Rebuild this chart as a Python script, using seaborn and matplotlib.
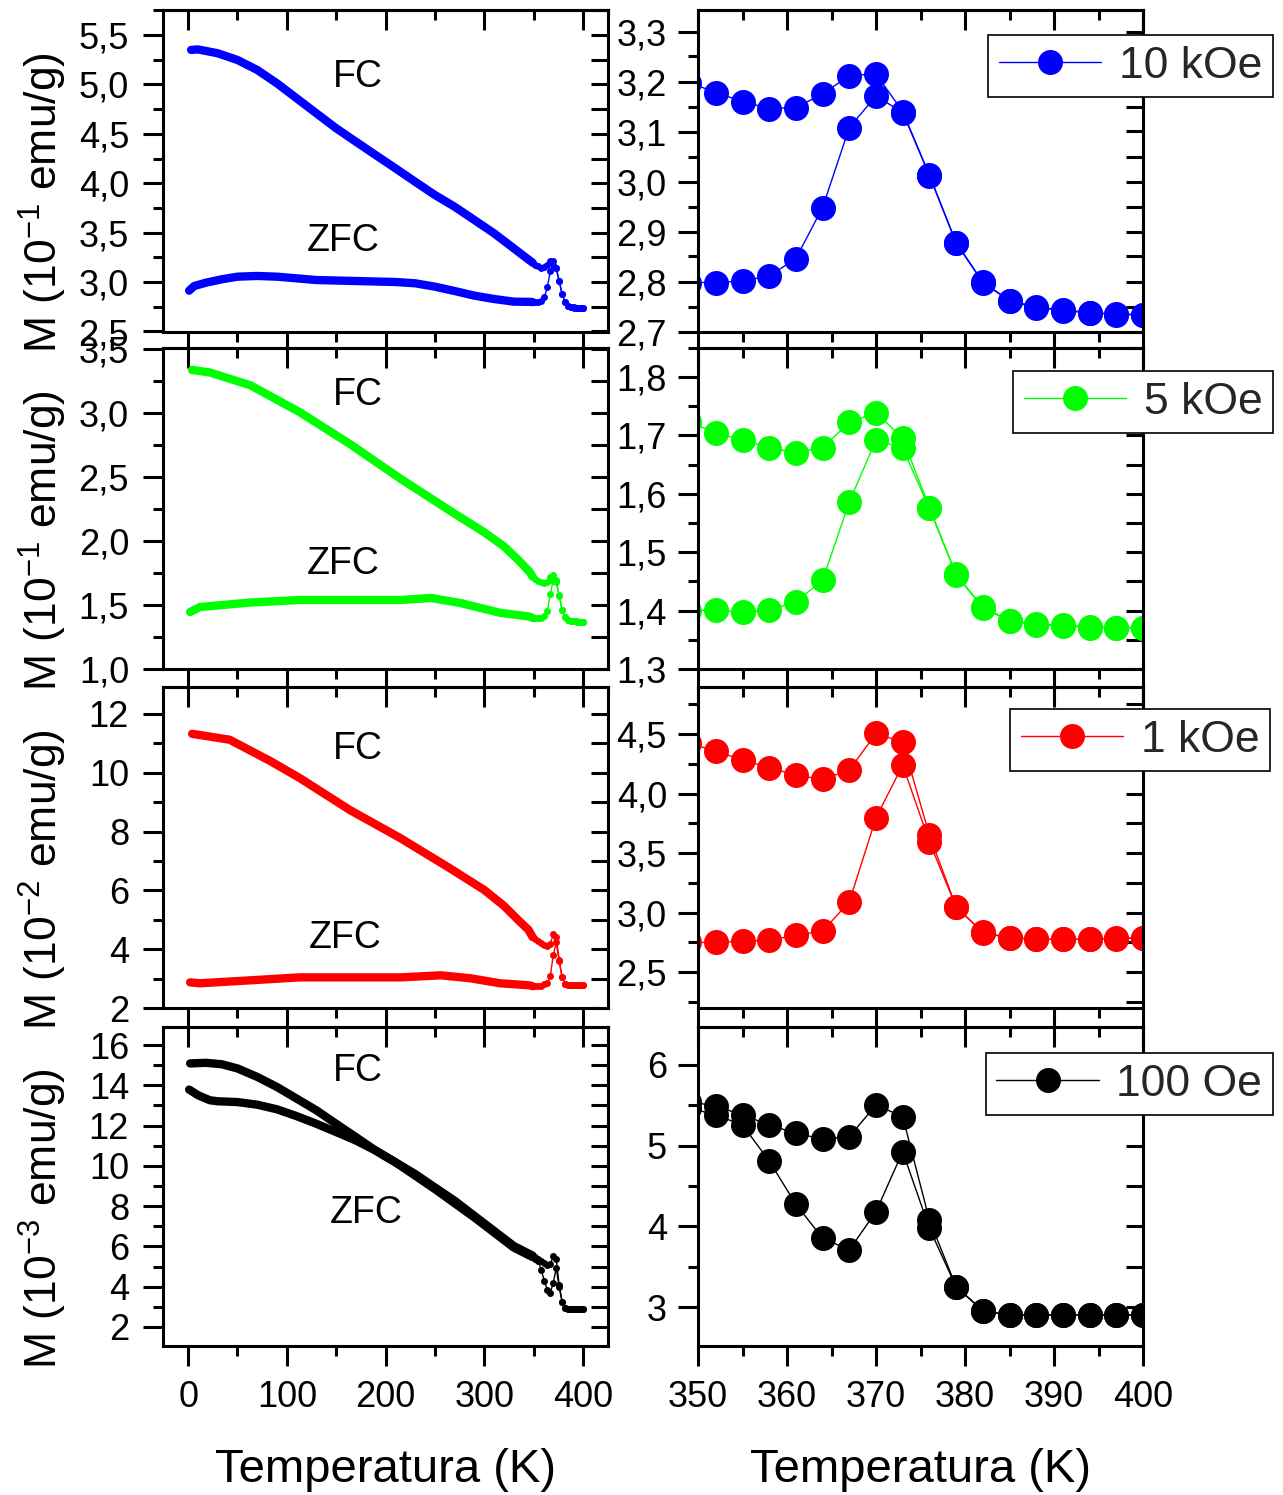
import numpy as np
import pandas as pd
import matplotlib
matplotlib.use("Agg")
import matplotlib.pyplot as plt
import seaborn as sns
from matplotlib.lines import Line2D
from matplotlib.ticker import MultipleLocator, FuncFormatter

sns.set_theme(style="white")
plt.rcParams["font.family"] = ["Liberation Sans", "DejaVu Sans"]
plt.rcParams["mathtext.fontset"] = "custom"
plt.rcParams["mathtext.rm"] = "Liberation Sans"
plt.rcParams["mathtext.it"] = "Liberation Sans:italic"
plt.rcParams["mathtext.default"] = "regular"

# ---------------------------------------------------------------------------
# Magnetization data (ZFC / FC), four applied fields
# ---------------------------------------------------------------------------
# 3 K steps across the transition
t_zoom = [349, 352, 355, 358, 361, 364, 367, 370, 373, 376, 379, 382, 385, 388, 391, 394, 397, 400]

# 10 kOe  (10^-1 emu/g)
zfc_10k = [2.798, 2.798, 2.801, 2.811, 2.846, 2.948, 3.108, 3.171, 3.138, 3.012, 2.877, 2.798,
           2.761, 2.748, 2.742, 2.737, 2.734, 2.733]
fc_10k = [3.198, 3.178, 3.160, 3.146, 3.148, 3.175, 3.212, 3.215, 3.140, 3.013, 2.878, 2.799,
          2.762, 2.749, 2.743, 2.738, 2.735, 2.734]
t_fc_10k = [3, 10, 30, 50, 70, 90, 110, 130, 150, 170, 190, 210, 230, 250, 270, 290, 310, 330, 346]
fc_10k_low = [5.350, 5.355, 5.316, 5.248, 5.147, 5.012, 4.860, 4.708, 4.557, 4.421, 4.286, 4.152,
              4.016, 3.882, 3.763, 3.629, 3.494, 3.342, 3.220]
t_zfc_10k = [1, 6, 18, 34, 50, 70, 90, 110, 130, 170, 210, 230, 250, 270, 290, 310, 330, 346]
zfc_10k_low = [2.913, 2.960, 2.994, 3.028, 3.055, 3.062, 3.055, 3.038, 3.021, 3.011, 3.001, 2.988,
               2.954, 2.910, 2.863, 2.829, 2.802, 2.800]

# 5 kOe  (10^-1 emu/g)
zfc_5k = [1.400, 1.401, 1.397, 1.401, 1.415, 1.452, 1.586, 1.692, 1.678, 1.575, 1.461, 1.405,
          1.382, 1.376, 1.374, 1.371, 1.370, 1.370]
fc_5k = [1.723, 1.704, 1.692, 1.679, 1.670, 1.679, 1.722, 1.739, 1.695, 1.576, 1.462, 1.406,
         1.383, 1.377, 1.375, 1.372, 1.371, 1.371]
t_fc_5k = [4, 22, 63, 113, 164, 215, 265, 300, 320, 335, 346]
fc_5k_low = [3.34, 3.32, 3.22, 3.01, 2.76, 2.49, 2.24, 2.07, 1.96, 1.85, 1.76]
t_zfc_5k = [2, 12, 63, 113, 164, 215, 246, 276, 316, 346]
zfc_5k_low = [1.446, 1.485, 1.52, 1.54, 1.54, 1.54, 1.556, 1.516, 1.44, 1.41]

# 1 kOe  (10^-2 emu/g)
zfc_1k = [2.750, 2.750, 2.761, 2.769, 2.811, 2.845, 3.091, 3.797, 4.239, 3.595, 3.049, 2.833,
          2.788, 2.777, 2.775, 2.777, 2.783, 2.788]
fc_1k = [4.422, 4.357, 4.282, 4.217, 4.155, 4.119, 4.197, 4.506, 4.430, 3.651, 3.050, 2.834,
         2.789, 2.778, 2.776, 2.778, 2.784, 2.789]
t_fc_1k = [4, 42, 83, 113, 164, 215, 265, 300, 320, 335, 345]
fc_1k_low = [11.32, 11.12, 10.40, 9.82, 8.73, 7.78, 6.76, 6.02, 5.48, 4.98, 4.66]
t_zfc_1k = [2, 12, 63, 113, 164, 215, 256, 286, 316, 346]
zfc_1k_low = [2.88, 2.85, 2.95, 3.05, 3.05, 3.05, 3.12, 3.02, 2.85, 2.78]

# 100 Oe  (10^-3 emu/g)
zfc_100 = [5.47, 5.380, 5.257, 4.810, 4.274, 3.853, 3.708, 4.182, 4.926, 3.976, 3.250, 2.955,
           2.900, 2.900, 2.900, 2.900, 2.900, 2.900]
fc_100 = [5.545, 5.492, 5.380, 5.257, 5.153, 5.083, 5.112, 5.504, 5.360, 4.079, 3.253, 2.956,
          2.902, 2.902, 2.902, 2.902, 2.902, 2.902]
t_fc_100 = [2, 18, 34, 50, 70, 90, 110, 130, 150, 170, 190, 210, 230, 250, 270, 290, 310, 330]
fc_100_low = [15.09, 15.12, 15.05, 14.84, 14.42, 13.92, 13.34, 12.76, 12.09, 11.43, 10.76, 10.18,
              9.60, 8.93, 8.27, 7.52, 6.77, 6.02]
t_zfc_100 = [1, 10, 22, 30, 50, 70, 90, 110, 130, 150, 170, 190, 210, 250, 290, 330]
zfc_100_low = [13.79, 13.51, 13.26, 13.21, 13.17, 13.04, 12.81, 12.47, 12.09, 11.68, 11.26,
               10.76, 10.18, 8.85, 7.44, 5.94]

fields = ["10 kOe", "5 kOe", "1 kOe", "100 Oe"]
colors = ["#0000FF", "#00FF00", "#FF0000", "#000000"]
exponents = ["-1", "-1", "-2", "-3"]

rows = [
    dict(zfc=zfc_10k, fc=fc_10k, tfl=t_fc_10k, fcl=fc_10k_low, tzl=t_zfc_10k, zfl=zfc_10k_low,
         ylim_l=(2.5, 5.754), maj_l=0.5, min_l=0.25, fmt_l="{:.1f}",
         ylim_r=(2.7, 3.343), maj_r=0.1, min_r=0.05, fmt_r="{:.1f}",
         fc_txt=(172, 5.08), zfc_txt=(157, 3.42)),
    dict(zfc=zfc_5k, fc=fc_5k, tfl=t_fc_5k, fcl=fc_5k_low, tzl=t_zfc_5k, zfl=zfc_5k_low,
         ylim_l=(1.0, 3.514), maj_l=0.5, min_l=0.25, fmt_l="{:.1f}",
         ylim_r=(1.3, 1.850), maj_r=0.1, min_r=0.05, fmt_r="{:.1f}",
         fc_txt=(172, 3.14), zfc_txt=(157, 1.82)),
    dict(zfc=zfc_1k, fc=fc_1k, tfl=t_fc_1k, fcl=fc_1k_low, tzl=t_zfc_1k, zfl=zfc_1k_low,
         ylim_l=(2.0, 12.91), maj_l=2, min_l=1, fmt_l="{:.0f}",
         ylim_r=(2.197, 4.895), maj_r=0.5, min_r=0.25, fmt_r="{:.1f}",
         fc_txt=(172, 10.81), zfc_txt=(159, 4.38)),
    dict(zfc=zfc_100, fc=fc_100, tfl=t_fc_100, fcl=fc_100_low, tzl=t_zfc_100, zfl=zfc_100_low,
         ylim_l=(1.05, 16.9), maj_l=2, min_l=1, fmt_l="{:.0f}",
         ylim_r=(2.517, 6.471), maj_r=1, min_r=0.5, fmt_r="{:.0f}",
         fc_txt=(172, 14.71), zfc_txt=(180, 7.66)),
]

legend_boxes = [(1273, 35), (1273, 371), (1270, 709), (1273, 1053)]

W, H = 1283, 1495
fig = plt.figure(figsize=(W / 100, H / 100), dpi=100)

row_px = [(10, 331.5), (347.7, 669), (687, 1008.3), (1027, 1346)]
left_x = (163, 608)
right_x = (698, 1143)

LW = 2.2
MAJ, MIN = 14.4, 7.5
TICK_FS = 26
YLABEL_FS = 32
XLABEL_FS = 34


def comma_fmt(fmt):
    return FuncFormatter(lambda v, p: fmt.format(v).replace(".", ",").replace("-", "\u2212"))


def style_axes(ax, xmaj, xmin, ymaj, ymin, yfmt, show_xlabels, ypad):
    for s in ax.spines.values():
        s.set_linewidth(LW)
        s.set_color("black")
    ax.xaxis.set_major_locator(MultipleLocator(xmaj))
    ax.xaxis.set_minor_locator(MultipleLocator(xmin))
    ax.yaxis.set_major_locator(MultipleLocator(ymaj))
    ax.yaxis.set_minor_locator(MultipleLocator(ymin))
    ax.yaxis.set_major_formatter(comma_fmt(yfmt))
    ax.tick_params(which="both", direction="out", width=LW, color="black",
                   top=False, right=False, bottom=True, left=True,
                   labelsize=TICK_FS, labelcolor="black")
    ax.tick_params(which="major", length=MAJ)
    ax.tick_params(which="minor", length=MIN)
    ax.tick_params(axis="y", which="major", pad=ypad)
    ax.tick_params(axis="x", which="major", pad=10)
    if not show_xlabels:
        ax.tick_params(axis="x", labelbottom=False)
    # mirrored axes with inward ticks
    top = ax.secondary_xaxis("top")
    top.xaxis.set_major_locator(MultipleLocator(xmaj))
    top.xaxis.set_minor_locator(MultipleLocator(xmin))
    top.tick_params(which="both", direction="in", width=LW, color="black", labeltop=False)
    top.tick_params(which="major", length=MAJ)
    top.tick_params(which="minor", length=MIN)
    top.spines["top"].set_linewidth(LW)
    right = ax.secondary_yaxis("right")
    right.yaxis.set_major_locator(MultipleLocator(ymin))
    right.yaxis.set_minor_locator(MultipleLocator(ymin))
    right.tick_params(which="major", direction="in", width=LW, length=12.5, color="black",
                      labelright=False)
    right.tick_params(which="minor", length=0)
    right.spines["right"].set_linewidth(LW)


for i, (r, col, field, ex) in enumerate(zip(rows, colors, fields, exponents)):
    y0, y1 = row_px[i]
    bottom = 1 - y1 / H
    height = (y1 - y0) / H
    axl = fig.add_axes([left_x[0] / W, bottom, (left_x[1] - left_x[0]) / W, height])
    axr = fig.add_axes([right_x[0] / W, bottom, (right_x[1] - right_x[0]) / W, height])
    last = i == 3

    # ---- full temperature range ----
    for tl, ml, mh in ((r["tfl"], r["fcl"], r["fc"]), (r["tzl"], r["zfl"], r["zfc"])):
        low = pd.DataFrame({"T": list(tl) + [t_zoom[0]], "M": list(ml) + [mh[0]]})
        sns.lineplot(data=low, x="T", y="M", ax=axl, color=col, lw=6.0, sort=False,
                     estimator=None, solid_capstyle="round", solid_joinstyle="round")
        high = pd.DataFrame({"T": t_zoom, "M": mh})
        sns.lineplot(data=high, x="T", y="M", ax=axl, color=col, lw=1.0, sort=False,
                     estimator=None, marker="o", markersize=5, markeredgewidth=0)
    axl.set_xlim(-25.5, 425.5)
    axl.set_ylim(*r["ylim_l"])
    style_axes(axl, 100, 50, r["maj_l"], r["min_l"], r["fmt_l"], last, 10)
    axl.set_ylabel("M (10$^{%s}$ emu/g)" % ex, fontsize=YLABEL_FS, color="black")
    axl.yaxis.set_label_coords(-0.212, 0.40)
    axl.set_xlabel("Temperatura (K)" if last else "", fontsize=XLABEL_FS, color="black",
                   labelpad=24)
    axl.text(*r["fc_txt"], "FC", fontsize=27, ha="center", va="center", color="black")
    axl.text(*r["zfc_txt"], "ZFC", fontsize=27, ha="center", va="center", color="black")

    # ---- transition region ----
    for m in (r["zfc"], r["fc"]):
        d = pd.DataFrame({"T": t_zoom, "M": m})
        sns.lineplot(data=d, x="T", y="M", ax=axr, color=col, lw=1.0, sort=False,
                     estimator=None, marker="o", markersize=18, markeredgewidth=0)
    axr.set_xlim(350, 400)
    axr.set_ylim(*r["ylim_r"])
    style_axes(axr, 10, 5, r["maj_r"], r["min_r"], r["fmt_r"], last, 8)
    axr.set_ylabel("")
    axr.set_xlabel("Temperatura (K)" if last else "", fontsize=XLABEL_FS, color="black",
                   labelpad=24)

    handle = Line2D([0], [0], color=col, lw=1.0, marker="o", markersize=18, markeredgewidth=0)
    bx, by = legend_boxes[i]
    leg = axr.legend([handle], [field], loc="upper right", bbox_to_anchor=(bx / W, 1 - by / H),
                     bbox_transform=fig.transFigure, frameon=True, fancybox=False,
                     edgecolor="black", framealpha=1, fontsize=32, handlelength=2.3,
                     borderpad=0.24, handletextpad=0.4, borderaxespad=0)
    leg.get_frame().set_linewidth(1.2)
    leg.set_zorder(10)

fig.savefig("out.png", dpi=100, facecolor="white")
